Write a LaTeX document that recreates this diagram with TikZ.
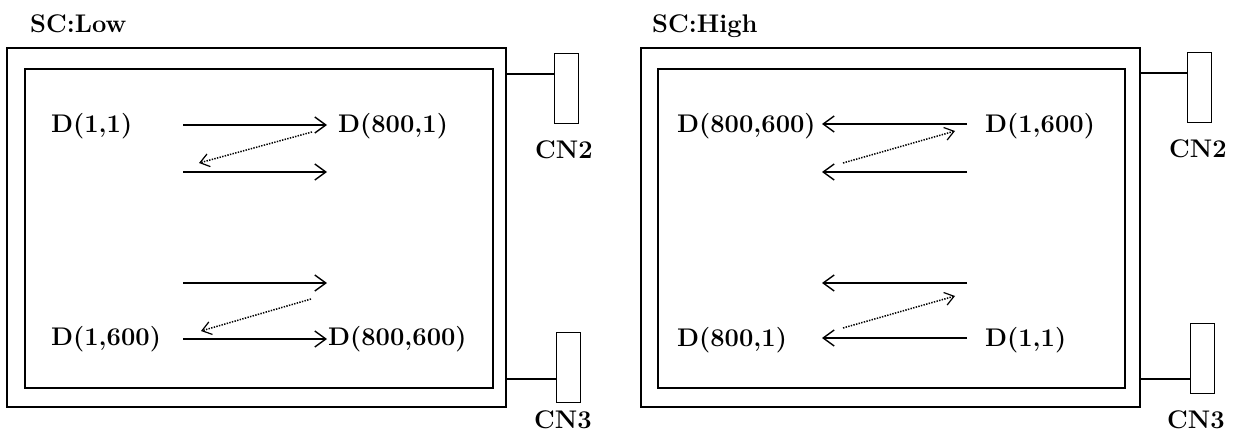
\documentclass[tikz,border=0pt]{standalone}
\usetikzlibrary{arrows.meta}
\begin{document}
\begin{tikzpicture}[x=1pt,y=-1pt,
  frame/.style={draw=black,line width=1.6pt},
  lbl/.style={anchor=base west,inner sep=0pt,font=\fontsize{25.5}{30}\selectfont\bfseries},
  conbox/.style={draw=black,line width=1.4pt,inner sep=0pt,minimum width=24pt,minimum height=70pt},
  wire/.style={draw=black,line width=1.2pt},
  scan/.style={line width=1.4pt,-{Straight Barb[length=11pt,width=16pt,line width=1.4pt]}},
  ret/.style={line width=1.5pt,dash pattern=on 1.4pt off 1.3pt,-{Straight Barb[length=9pt,width=13pt,line width=1.2pt,sep=0pt]}}
]
\useasboundingbox (0,0) rectangle (1236,439);

% ---------- Left panel: SC:Low ----------
\node[lbl] (tLow) at (30,32) {SC:Low};
\draw[frame] (7,48) rectangle (506,407);
\draw[frame] (25,69) rectangle (493,388);

\node[lbl] (L11) at (51,132) {D(1,1)};
\node[lbl] (L8001) at (338,132) {D(800,1)};
\node[lbl] (L1600) at (51,345) {D(1,600)};
\node[lbl] (L800600) at (328,345) {D(800,600)};

\coordinate (la1s) at (183,125); \coordinate (la1e) at (327,125);
\coordinate (la2s) at (183,172); \coordinate (la2e) at (327,172);
\coordinate (la3s) at (183,283); \coordinate (la3e) at (327,283);
\coordinate (la4s) at (183,339); \coordinate (la4e) at (327,339);
\coordinate (ld1s) at (312,132); \coordinate (ld1e) at (199,163);
\coordinate (ld2s) at (311,299); \coordinate (ld2e) at (201,331);
\draw[scan] (la1s) -- (la1e);
\draw[scan] (la2s) -- (la2e);
\draw[scan] (la3s) -- (la3e);
\draw[scan] (la4s) -- (la4e);
\draw[ret] (ld1s) -- (ld1e);
\draw[ret] (ld2s) -- (ld2e);

\node[conbox,anchor=north west] (LCN2) at (554,53) {};
\node[conbox,anchor=north west] (LCN3) at (556,332) {};
\coordinate (Lw1) at (506,74);
\coordinate (Lw2) at (506,379);
\draw[wire] (Lw1) -- (LCN2.west |- Lw1);
\draw[wire] (Lw2) -- (LCN3.west |- Lw2);
\node[lbl] (LCN2t) at (535,158) {CN2};
\node[lbl] (LCN3t) at (534,428) {CN3};

% ---------- Right panel: SC:High ----------
\node[lbl] (tHigh) at (652,32) {SC:High};
\draw[frame] (641,48) rectangle (1140,407);
\draw[frame] (658,69) rectangle (1125,388);

\node[lbl] (R800600) at (677,132) {D(800,600)};
\node[lbl] (R1600) at (985,132) {D(1,600)};
\node[lbl] (R8001) at (677,346) {D(800,1)};
\node[lbl] (R11) at (985,346) {D(1,1)};

\coordinate (ra1s) at (967,124); \coordinate (ra1e) at (822,124);
\coordinate (ra2s) at (967,172); \coordinate (ra2e) at (822,172);
\coordinate (ra3s) at (967,283); \coordinate (ra3e) at (822,283);
\coordinate (ra4s) at (967,338); \coordinate (ra4e) at (822,338);
\coordinate (rd1s) at (843,163); \coordinate (rd1e) at (955,131);
\coordinate (rd2s) at (843,328); \coordinate (rd2e) at (955,296);
\draw[scan] (ra1s) -- (ra1e);
\draw[scan] (ra2s) -- (ra2e);
\draw[scan] (ra3s) -- (ra3e);
\draw[scan] (ra4s) -- (ra4e);
\draw[ret] (rd1s) -- (rd1e);
\draw[ret] (rd2s) -- (rd2e);

\node[conbox,anchor=north west] (RCN2) at (1187,52) {};
\node[conbox,anchor=north west] (RCN3) at (1190,323) {};
\coordinate (Rw1) at (1140,73);
\coordinate (Rw2) at (1140,379);
\draw[wire] (Rw1) -- (RCN2.west |- Rw1);
\draw[wire] (Rw2) -- (RCN3.west |- Rw2);
\node[lbl] (RCN2t) at (1169,157) {CN2};
\node[lbl] (RCN3t) at (1167,428) {CN3};
\end{tikzpicture}
\end{document}
